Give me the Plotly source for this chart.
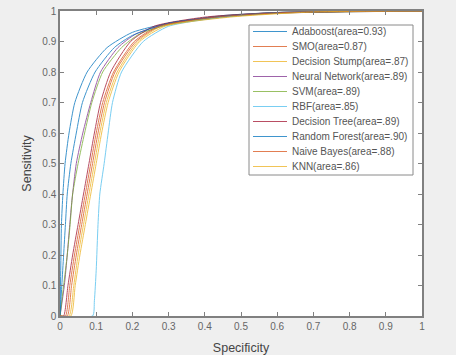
import plotly.graph_objects as go

names = ["Adaboost(area=0.93)", "SMO(area=0.87)", "Decision Stump(area=.87)",
         "Neural Network(area=.89)", "SVM(area=.89)", "RBF(area=.85)",
         "Decision Tree(area=.89)", "Random Forest(area=.90)",
         "Naive Bayes(area=.88)", "KNN(area=.86)"]
colors = ["#0072BD", "#D95319", "#EDB120", "#7E2F8E", "#77AC30", "#4DBEEE",
          "#A2142F", "#0072BD", "#D95319", "#EDB120"]

adaboost_x = [0, 0.002, 0.004, 0.008, 0.014, 0.025, 0.041, 0.075, 0.13, 0.2, 0.3, 0.45, 0.6, 1.0]
adaboost_y = [0, 0.15, 0.3, 0.4, 0.5, 0.6, 0.7, 0.8, 0.88, 0.93, 0.96, 0.985, 0.995, 1.0]
smo_x = [0, 0.015, 0.027, 0.04, 0.055, 0.07, 0.085, 0.1, 0.118, 0.148, 0.205, 0.27, 0.42, 0.6, 1.0]
smo_y = [0, 0, 0.1, 0.2, 0.3, 0.4, 0.5, 0.6, 0.7, 0.8, 0.9, 0.95, 0.98, 0.995, 1.0]
stump_x = [0, 0.025, 0.038, 0.05, 0.065, 0.08, 0.095, 0.11, 0.128, 0.158, 0.215, 0.28, 0.45, 0.65, 1.0]
stump_y = [0, 0, 0.1, 0.2, 0.3, 0.4, 0.5, 0.6, 0.7, 0.8, 0.9, 0.95, 0.98, 0.995, 1.0]
nn_x = [0, 0.012, 0.02, 0.027, 0.033, 0.045, 0.063, 0.085, 0.112, 0.16, 0.21, 0.3, 0.45, 0.6, 1.0]
nn_y = [0, 0.1, 0.2, 0.3, 0.38, 0.5, 0.6, 0.7, 0.8, 0.88, 0.925, 0.96, 0.982, 0.993, 1.0]
svm_x = [0, 0.01, 0.02, 0.028, 0.035, 0.05, 0.068, 0.088, 0.118, 0.17, 0.22, 0.3, 0.45, 0.6, 1.0]
svm_y = [0, 0.1, 0.2, 0.3, 0.4, 0.5, 0.6, 0.7, 0.8, 0.88, 0.925, 0.955, 0.98, 0.993, 1.0]
rbf_x = [0, 0.09, 0.095, 0.1, 0.105, 0.11, 0.122, 0.133, 0.145, 0.17, 0.23, 0.3, 0.45, 0.6, 1.0]
rbf_y = [0, 0, 0.05, 0.15, 0.3, 0.4, 0.5, 0.6, 0.7, 0.8, 0.9, 0.95, 0.98, 0.995, 1.0]
tree_x = [0, 0.01, 0.022, 0.035, 0.05, 0.065, 0.08, 0.095, 0.112, 0.14, 0.195, 0.26, 0.4, 0.6, 1.0]
tree_y = [0, 0, 0.1, 0.2, 0.3, 0.4, 0.5, 0.6, 0.7, 0.8, 0.9, 0.95, 0.98, 0.995, 1.0]
rf_x = [0, 0.005, 0.01, 0.015, 0.02, 0.03, 0.045, 0.062, 0.097, 0.15, 0.2, 0.3, 0.45, 0.6, 1.0]
rf_y = [0, 0.1, 0.2, 0.3, 0.4, 0.5, 0.6, 0.7, 0.8, 0.88, 0.92, 0.96, 0.983, 0.995, 1.0]
nb_x = [0, 0.02, 0.032, 0.045, 0.06, 0.075, 0.09, 0.105, 0.123, 0.152, 0.21, 0.275, 0.43, 0.62, 1.0]
nb_y = [0, 0, 0.1, 0.2, 0.3, 0.4, 0.5, 0.6, 0.7, 0.8, 0.9, 0.95, 0.98, 0.995, 1.0]
knn_x = [0, 0.03, 0.042, 0.055, 0.07, 0.085, 0.1, 0.115, 0.133, 0.163, 0.22, 0.29, 0.47, 0.7, 1.0]
knn_y = [0, 0, 0.1, 0.2, 0.3, 0.4, 0.5, 0.6, 0.7, 0.8, 0.9, 0.95, 0.98, 0.997, 1.0]

series = [(adaboost_x, adaboost_y), (smo_x, smo_y), (stump_x, stump_y), (nn_x, nn_y),
          (svm_x, svm_y), (rbf_x, rbf_y), (tree_x, tree_y), (rf_x, rf_y),
          (nb_x, nb_y), (knn_x, knn_y)]

ticks = [0, 0.1, 0.2, 0.3, 0.4, 0.5, 0.6, 0.7, 0.8, 0.9, 1]
tick_text = ["0", "0.1", "0.2", "0.3", "0.4", "0.5", "0.6", "0.7", "0.8", "0.9", "1"]

W, H = 456, 355
L, R, T, B = 60, 34, 11, 39
PW, PH = W - L - R, H - T - B


def px(xp):
    return (xp - L) / PW


def py(yp):
    return (H - B - yp) / PH


fig = go.Figure()
for (xs, ys), name, c in zip(series, names, colors):
    fig.add_trace(go.Scatter(x=xs, y=ys, mode="lines", name=name, showlegend=False,
                             line=dict(color=c, width=1, shape="spline", smoothing=0.6),
                             opacity=0.75))

# legend drawn as a box with sample lines and text (MATLAB-style compact spacing)
shapes = [dict(type="rect", xref="paper", yref="paper", x0=px(249), x1=px(413),
               y0=py(175), y1=py(25), line=dict(color="#8a8a8a", width=1),
               fillcolor="white", layer="above")]
annotations = []
for i, (name, c) in enumerate(zip(names, colors)):
    yy = 31.5 + 15 * i
    shapes.append(dict(type="line", xref="paper", yref="paper", x0=px(253), x1=px(287),
                       y0=py(yy), y1=py(yy), line=dict(color=c, width=1), layer="above",
                       opacity=0.75))
    annotations.append(dict(xref="paper", yref="paper", x=px(290), y=py(yy), text=name,
                            showarrow=False, xanchor="left", yanchor="middle",
                            font=dict(family="Liberation Sans", size=10, color="#555555")))

axis_common = dict(range=[0, 1], tickvals=ticks, ticktext=tick_text, ticks="inside",
                   ticklen=4, tickcolor="#808080", showline=True, linecolor="#808080",
                   linewidth=1.5, mirror="ticks", showgrid=False, zeroline=False,
                   automargin=False,
                   tickfont=dict(family="Liberation Sans", size=10, color="#666666"))

fig.update_layout(
    width=W, height=H,
    margin=dict(l=L, r=R, t=T, b=B),
    paper_bgcolor="#efefef", plot_bgcolor="white",
    font=dict(family="Liberation Sans", color="#444444"),
    xaxis=dict(**axis_common, title=dict(text="Specificity", font=dict(size=12.5), standoff=12)),
    yaxis=dict(**axis_common, title=dict(text="Sensitivity", font=dict(size=12.5), standoff=8)),
    shapes=shapes, annotations=annotations,
    showlegend=False,
)

fig.write_html("out.html", config={"displayModeBar": False},
               post_script="document.body.style.margin='0';")
